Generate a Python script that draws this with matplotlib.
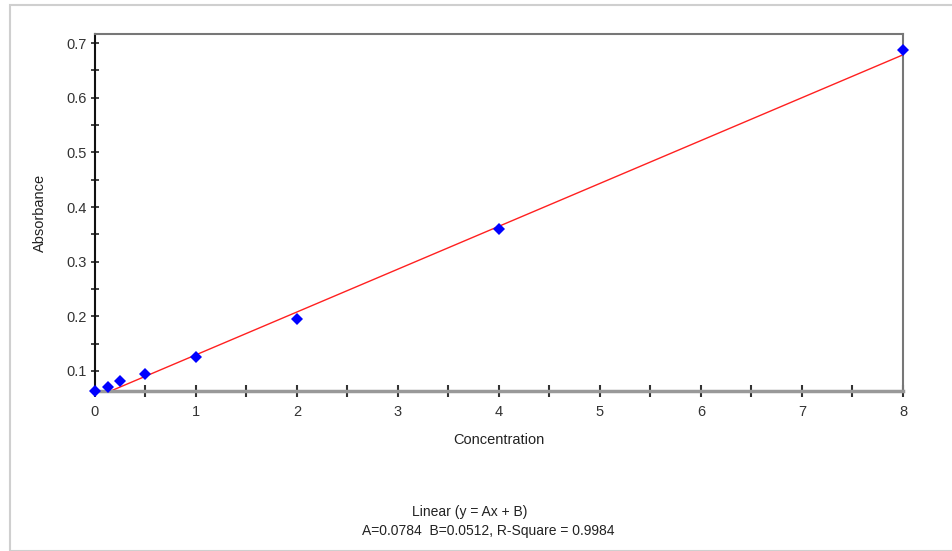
import numpy as np
import matplotlib
matplotlib.use("Agg")
import matplotlib.pyplot as plt
from matplotlib.patches import Rectangle
from matplotlib.ticker import MultipleLocator

plt.rcParams["font.family"] = ["Liberation Sans", "DejaVu Sans"]

# measured standards
conc = [0, 0.125, 0.25, 0.5, 1, 2, 4, 8]
absorb = [0.064, 0.070, 0.081, 0.094, 0.126, 0.195, 0.360, 0.688]

# linear fit reported on the chart
A, B, R2 = 0.0784, 0.0512, 0.9984

fig = plt.figure(figsize=(9.53, 5.51), dpi=100)
fig.patches.append(Rectangle((10 / 953, 0.5 / 551), 1.0, 1 - 5.5 / 551, transform=fig.transFigure,
                             fill=False, edgecolor="#cfcfcf", linewidth=1.5))

ax = fig.add_axes([95 / 953, 1 - 391 / 551, 808 / 953, 357 / 551])
xf = np.array([0.0, 8.0])
ax.plot(xf, A * xf + B, color="#ff2020", linewidth=1.0, zorder=2)
ax.plot(conc, absorb, linestyle="none", marker="D", markersize=6.5, color="#0000ff",
        markeredgewidth=0, clip_on=False, zorder=5)

ax.set_xlim(0, 8)
ax.set_ylim(0.0634, 0.7165)
ax.xaxis.set_major_locator(MultipleLocator(1))
ax.xaxis.set_minor_locator(MultipleLocator(0.5))
ax.yaxis.set_major_locator(MultipleLocator(0.1))
ax.yaxis.set_minor_locator(MultipleLocator(0.05))
ax.yaxis.set_major_formatter(matplotlib.ticker.FormatStrFormatter("%g"))

ax.tick_params(axis="both", which="both", direction="inout", colors="#222222",
               labelcolor="#333333", labelsize=10.5)
ax.tick_params(axis="y", which="both", length=6, width=1.2, pad=3)
ax.tick_params(axis="x", which="both", length=8, width=1.5, color="#333333", pad=6)

ax.spines["left"].set_color("#111111")
ax.spines["left"].set_linewidth(1.5)
ax.spines["bottom"].set_color("#999999")
ax.spines["bottom"].set_linewidth(2.5)
for s in ("top", "right"):
    ax.spines[s].set_color("#777777")
    ax.spines[s].set_linewidth(1.5)

ax.set_xlabel("Concentration", fontsize=10.5, color="#222222", labelpad=10)
ax.set_ylabel("Absorbance", fontsize=10.5, color="#222222", labelpad=14)

fig.text(470 / 953, 1 - 512 / 551, "Linear (y = Ax + B)", ha="center", va="center",
         fontsize=10, color="#222222")
fig.text(488 / 953, 1 - 531 / 551, f"A={A:.4f}  B={B:.4f}, R-Square = {R2:.4f}",
         ha="center", va="center", fontsize=10, color="#222222")

fig.savefig("out.png", dpi=100)
